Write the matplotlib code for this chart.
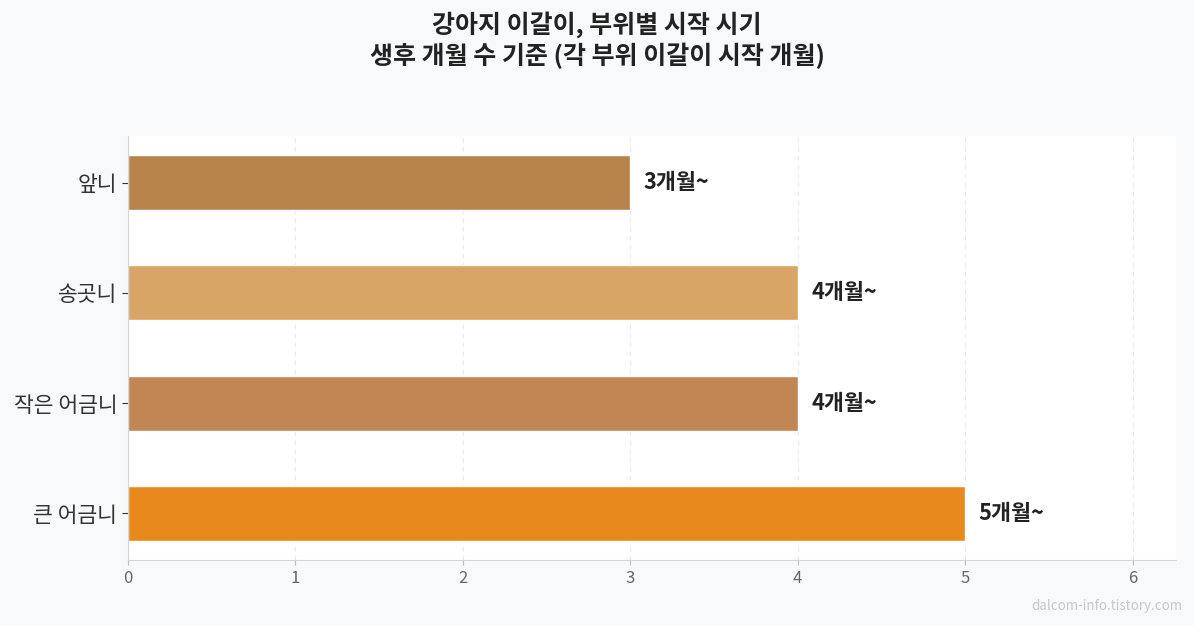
import matplotlib
matplotlib.use("Agg")
import matplotlib.pyplot as plt

plt.rcParams['font.family'] = ['Noto Sans CJK KR', 'DejaVu Sans']

teeth = ["큰 어금니", "작은 어금니", "송곳니", "앞니"]
months = [5, 4, 4, 3]
labels = ["5개월~", "4개월~", "4개월~", "3개월~"]
colors = ["#e8891e", "#c28655", "#d9a566", "#b8834a"]

fig, ax = plt.subplots(figsize=(11.94, 6.26), dpi=100)
fig.patch.set_facecolor("#f8f9fa")
ax.set_facecolor("white")

bars = ax.barh(teeth, months, height=0.5, color=colors, edgecolor="white", linewidth=1)
for b, lab in zip(bars, labels):
    ax.text(b.get_width() + 0.08, b.get_y() + b.get_height() / 2, lab,
            va="center", ha="left", fontsize=15.7, fontweight="bold", color="#222222")

ax.set_xlim(0, 6.26)
ax.set_xticks(range(0, 7))
ax.grid(axis="x", linestyle=(0, (4, 4)), color="#e8e8e8", linewidth=0.8)
ax.set_axisbelow(True)
for s in ["top", "right"]:
    ax.spines[s].set_visible(False)
for s in ["left", "bottom"]:
    ax.spines[s].set_color("#d5d5d5")
ax.tick_params(axis="y", labelsize=15.5, colors="#333333", length=4)
ax.tick_params(axis="x", labelsize=12, labelcolor="#666666", color="#bbbbbb")

fig.suptitle("강아지 이갈이, 부위별 시작 시기\n생후 개월 수 기준 (각 부위 이갈이 시작 개월)",
             fontsize=18, fontweight="bold", color="#222222", y=0.982, linespacing=1.2)
fig.text(0.99, 0.02, "dalcom-info.tistory.com", ha="right", va="bottom",
         fontsize=9.6, color="#c8c8c8")

fig.subplots_adjust(left=0.107, right=0.985, top=0.783, bottom=0.105)
fig.savefig("out.png", dpi=100, facecolor=fig.get_facecolor())
